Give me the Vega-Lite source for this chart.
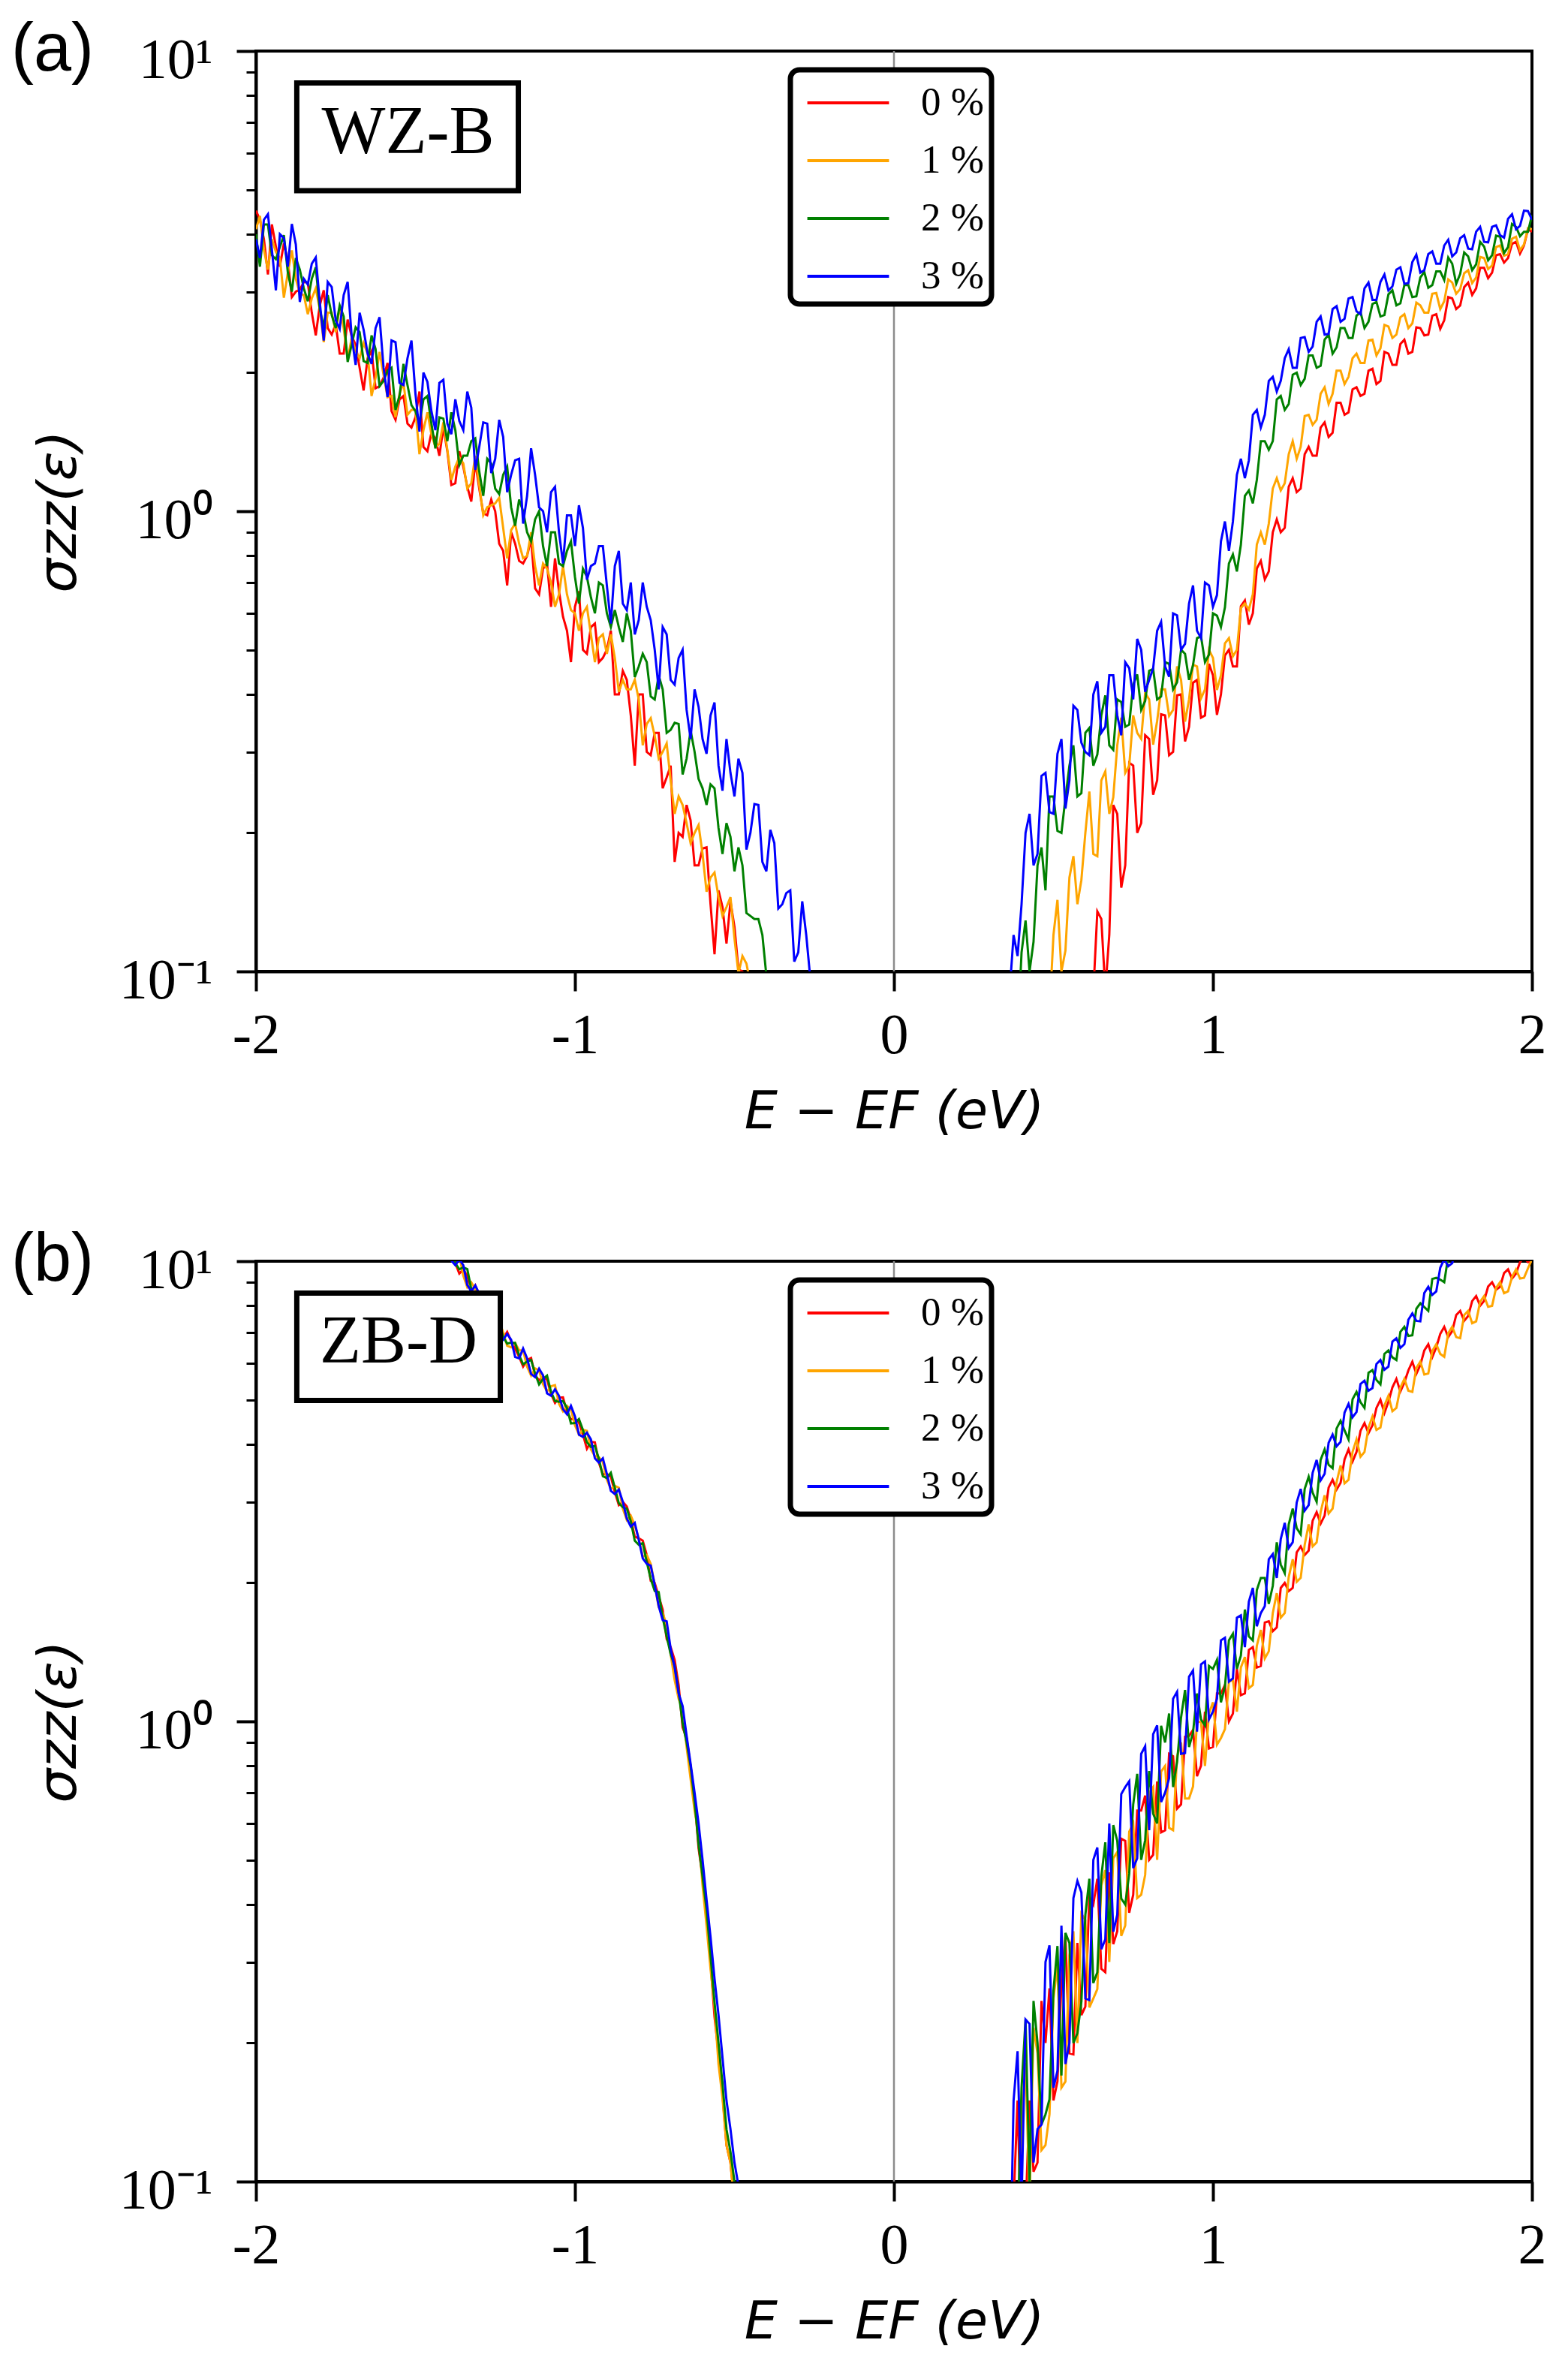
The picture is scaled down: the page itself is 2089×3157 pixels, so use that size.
{
"$schema": "https://vega.github.io/schema/vega-lite/v6.json",
"background": "white",
"padding": {"left": 13, "top": 20, "right": 20, "bottom": 20},
"autosize": {"type": "pad"},
"bounds": "flush",
"spacing": 386,
"data": {"values": [
{"panel":"a","side":"L",
"E":[-2,-1.975,-1.95,-1.925,-1.9,-1.875,-1.85,-1.825,-1.8,-1.775,-1.75,-1.725,-1.7,-1.675,-1.65,-1.625,-1.6,-1.575,-1.55,-1.525,-1.5,-1.475,-1.45,-1.425,-1.4,-1.375,-1.35,-1.325,-1.3,-1.275,-1.25,-1.225,-1.2,-1.175,-1.15,-1.125,-1.1,-1.075,-1.05,-1.025,-1,-0.975,-0.95,-0.925,-0.9,-0.875,-0.85,-0.825,-0.8,-0.775,-0.75,-0.725,-0.7,-0.675,-0.65,-0.625,-0.6,-0.575,-0.55,-0.525,-0.5,-0.475,-0.45,-0.425,-0.4,-0.375,-0.35,-0.325,-0.3,-0.275,-0.25],
"0 %":[4.5,3.9,4.2,3.4,3.5,3.0,3.15,2.7,2.8,2.5,2.55,2.2,2.4,2.05,2.15,1.85,1.95,1.65,1.75,1.55,1.6,1.38,1.48,1.32,1.35,1.15,1.25,1.05,1.12,0.98,1.0,0.82,0.9,0.78,0.8,0.68,0.75,0.62,0.67,0.55,0.62,0.5,0.56,0.47,0.5,0.4,0.45,0.36,0.4,0.3,0.33,0.25,0.28,0.2,0.23,0.17,0.185,0.14,0.15,0.115,0.125,0.1,0.09,0.07,0.05,0.05,0.05,0.05,0.05,0.05,0.05],
"1 %":[4.1,3.7,3.9,3.55,3.3,3.2,2.95,2.9,2.75,2.7,2.45,2.5,2.38,2.15,2.2,1.95,1.98,1.78,1.8,1.62,1.66,1.5,1.47,1.4,1.36,1.25,1.27,1.15,1.14,1.02,1.04,0.92,0.91,0.85,0.8,0.76,0.77,0.7,0.66,0.66,0.6,0.6,0.54,0.53,0.49,0.48,0.43,0.41,0.39,0.345,0.325,0.3,0.26,0.24,0.21,0.2,0.18,0.16,0.145,0.138,0.118,0.108,0.094,0.08,0.05,0.05,0.05,0.05,0.05,0.05,0.05],
"2 %":[4.0,4.2,3.6,3.75,3.3,3.55,3.05,3.2,2.75,2.95,2.5,2.65,2.3,2.45,2.1,2.25,1.92,2.05,1.78,1.88,1.65,1.75,1.55,1.6,1.42,1.5,1.32,1.42,1.22,1.3,1.12,1.2,1.02,1.06,0.9,0.96,0.84,0.9,0.77,0.82,0.72,0.75,0.65,0.7,0.6,0.61,0.52,0.55,0.46,0.47,0.39,0.41,0.335,0.345,0.29,0.3,0.25,0.255,0.205,0.21,0.165,0.17,0.132,0.13,0.098,0.08,0.05,0.05,0.05,0.05,0.05],
"3 %":[3.9,4.3,3.7,4.0,3.4,3.8,3.2,3.45,2.85,3.15,2.6,2.95,2.4,2.7,2.2,2.5,2.05,2.35,1.9,2.15,1.8,2.0,1.65,1.9,1.55,1.75,1.5,1.68,1.38,1.55,1.3,1.45,1.2,1.3,1.08,1.2,1.0,1.1,0.9,0.98,0.84,0.92,0.76,0.84,0.69,0.76,0.63,0.7,0.58,0.62,0.5,0.56,0.43,0.48,0.37,0.41,0.32,0.36,0.28,0.32,0.24,0.27,0.2,0.23,0.165,0.19,0.14,0.15,0.11,0.12,0.085]},
{"panel":"a","side":"L",
"E":[-1.9875,-1.9625,-1.9375,-1.9125,-1.8875,-1.8625,-1.8375,-1.8125,-1.7875,-1.7625,-1.7375,-1.7125,-1.6875,-1.6625,-1.6375,-1.6125,-1.5875,-1.5625,-1.5375,-1.5125,-1.4875,-1.4625,-1.4375,-1.4125,-1.3875,-1.3625,-1.3375,-1.3125,-1.2875,-1.2625,-1.2375,-1.2125,-1.1875,-1.1625,-1.1375,-1.1125,-1.0875,-1.0625,-1.0375,-1.0125,-0.9875,-0.9625,-0.9375,-0.9125,-0.8875,-0.8625,-0.8375,-0.8125,-0.7875,-0.7625,-0.7375,-0.7125,-0.6875,-0.6625,-0.6375,-0.6125,-0.5875,-0.5625,-0.5375,-0.5125,-0.4875,-0.4625,-0.4375,-0.4125,-0.3875,-0.3625,-0.3375,-0.3125,-0.2875,-0.2625],
"0 %":[4.3,3.27,3.76,3.82,2.92,3.03,3.14,2.41,3.02,2.42,2.2,2.61,2.3,1.83,2.23,1.87,2.1,1.58,1.78,1.52,1.82,1.35,1.44,1.52,1.14,1.35,1.13,1.28,0.99,1.06,0.85,0.69,0.85,0.77,0.87,0.66,0.77,0.79,0.59,0.47,0.67,0.49,0.57,0.48,0.55,0.4,0.43,0.28,0.4,0.295,0.33,0.264,0.173,0.196,0.213,0.17,0.186,0.109,0.138,0.142,0.101,0.095,0.075,0.06,0.05,0.05,0.05,0.05,0.05,0.05],
"1 %":[4.38,3.35,3.66,2.91,3.69,2.97,2.68,3.05,2.33,2.7,2.77,2.14,2.23,2.32,1.78,2.22,1.77,1.6,1.9,1.66,1.33,1.64,1.38,1.56,1.17,1.31,1.12,1.32,0.98,1.03,1.07,0.79,0.94,0.79,0.9,0.69,0.75,0.62,0.76,0.61,0.55,0.62,0.47,0.54,0.54,0.405,0.41,0.43,0.31,0.355,0.29,0.313,0.22,0.23,0.19,0.208,0.149,0.164,0.132,0.145,0.099,0.104,0.079,0.065,0.05,0.05,0.05,0.05,0.05,0.05],
"2 %":[3.4,4.2,3.53,3.98,3.0,3.35,2.86,3.39,2.51,2.67,2.8,2.11,2.51,2.12,2.41,1.87,2.02,1.66,2.09,1.7,1.55,1.78,1.37,1.59,1.64,1.26,1.32,1.44,1.08,1.27,1.09,1.25,0.93,1.0,0.86,1.0,0.76,0.9,0.76,0.86,0.63,0.72,0.6,0.69,0.56,0.56,0.6,0.436,0.49,0.396,0.44,0.33,0.347,0.268,0.334,0.262,0.23,0.25,0.18,0.196,0.186,0.134,0.13,0.12,0.076,0.062,0.05,0.05,0.05,0.05],
"3 %":[3.55,4.42,3.02,3.92,4.21,2.85,3.11,3.56,2.35,3.07,2.49,3.15,2.08,2.48,2.09,2.64,1.77,2.33,1.88,2.35,1.49,1.91,1.5,1.93,1.47,1.57,1.82,1.23,1.56,1.21,1.58,1.1,1.29,0.94,1.37,1.02,0.9,1.13,0.77,0.98,1.03,0.71,0.77,0.84,0.57,0.82,0.61,0.54,0.7,0.58,0.41,0.54,0.42,0.5,0.32,0.376,0.297,0.384,0.247,0.27,0.29,0.184,0.231,0.173,0.203,0.137,0.148,0.105,0.142,0.097]},
{"panel":"a","side":"R",
"E":[0.35,0.375,0.4,0.425,0.45,0.475,0.5,0.525,0.55,0.575,0.6,0.625,0.65,0.675,0.7,0.725,0.75,0.775,0.8,0.825,0.85,0.875,0.9,0.925,0.95,0.975,1,1.025,1.05,1.075,1.1,1.125,1.15,1.175,1.2,1.225,1.25,1.275,1.3,1.325,1.35,1.375,1.4,1.425,1.45,1.475,1.5,1.525,1.55,1.575,1.6,1.625,1.65,1.675,1.7,1.725,1.75,1.775,1.8,1.825,1.85,1.875,1.9,1.925,1.95,1.975,2],
"0 %":[0.05,0.05,0.05,0.05,0.05,0.05,0.05,0.05,0.05,0.05,0.05,0.09,0.13,0.12,0.22,0.17,0.28,0.21,0.32,0.26,0.36,0.3,0.4,0.34,0.43,0.36,0.44,0.4,0.5,0.46,0.64,0.6,0.78,0.74,0.96,0.92,1.18,1.12,1.38,1.32,1.56,1.48,1.72,1.64,1.86,1.8,2.04,1.92,2.2,2.08,2.36,2.22,2.5,2.42,2.68,2.6,2.9,2.8,3.14,3.05,3.38,3.3,3.62,3.55,3.85,3.78,4.05],
"1 %":[0.05,0.05,0.05,0.05,0.05,0.07,0.12,0.1,0.16,0.14,0.2,0.18,0.26,0.22,0.31,0.27,0.36,0.32,0.39,0.35,0.41,0.37,0.43,0.39,0.46,0.41,0.48,0.44,0.53,0.5,0.63,0.66,0.9,0.94,1.18,1.15,1.42,1.38,1.62,1.58,1.86,1.8,2.02,1.96,2.2,2.1,2.36,2.26,2.52,2.42,2.68,2.56,2.8,2.7,2.98,2.86,3.14,3.04,3.34,3.22,3.55,3.42,3.78,3.62,3.95,3.8,4.1],
"2 %":[0.05,0.05,0.11,0.1,0.17,0.15,0.24,0.2,0.28,0.24,0.33,0.28,0.36,0.31,0.39,0.34,0.42,0.37,0.45,0.39,0.47,0.41,0.5,0.43,0.53,0.47,0.6,0.56,0.77,0.74,1.08,1.04,1.42,1.36,1.75,1.66,1.98,1.88,2.18,2.05,2.36,2.2,2.5,2.38,2.66,2.5,2.82,2.65,2.96,2.8,3.1,2.92,3.22,3.06,3.32,3.18,3.45,3.28,3.58,3.44,3.76,3.6,3.95,3.75,4.15,4.05,4.4],
"3 %":[0.05,0.12,0.14,0.22,0.18,0.27,0.22,0.32,0.26,0.37,0.3,0.4,0.33,0.44,0.36,0.47,0.39,0.5,0.43,0.55,0.46,0.6,0.5,0.63,0.55,0.7,0.62,0.86,0.82,1.2,1.18,1.62,1.52,1.92,1.82,2.15,2.05,2.38,2.22,2.58,2.42,2.75,2.58,2.9,2.72,3.05,2.88,3.15,3.02,3.35,3.12,3.48,3.3,3.62,3.45,3.78,3.58,3.92,3.72,4.05,3.85,4.15,3.98,4.32,4.1,4.5,4.3]},
{"panel":"a","side":"R",
"E":[0.3625,0.3875,0.4125,0.4375,0.4625,0.4875,0.5125,0.5375,0.5625,0.5875,0.6125,0.6375,0.6625,0.6875,0.7125,0.7375,0.7625,0.7875,0.8125,0.8375,0.8625,0.8875,0.9125,0.9375,0.9625,0.9875,1.0125,1.0375,1.0625,1.0875,1.1125,1.1375,1.1625,1.1875,1.2125,1.2375,1.2625,1.2875,1.3125,1.3375,1.3625,1.3875,1.4125,1.4375,1.4625,1.4875,1.5125,1.5375,1.5625,1.5875,1.6125,1.6375,1.6625,1.6875,1.7125,1.7375,1.7625,1.7875,1.8125,1.8375,1.8625,1.8875,1.9125,1.9375,1.9625,1.9875],
"0 %":[0.05,0.05,0.05,0.05,0.05,0.05,0.05,0.05,0.05,0.05,0.078,0.135,0.091,0.23,0.152,0.284,0.2,0.326,0.242,0.362,0.295,0.398,0.316,0.424,0.356,0.466,0.361,0.486,0.46,0.622,0.567,0.751,0.711,0.9,0.9,1.13,1.1,1.33,1.32,1.52,1.45,1.72,1.62,1.84,1.78,2.02,1.89,2.22,2.08,2.31,2.2,2.51,2.41,2.66,2.49,2.92,2.75,3.07,2.95,3.38,3.21,3.6,3.47,3.81,3.63,4.1],
"1 %":[0.05,0.05,0.05,0.05,0.074,0.081,0.143,0.111,0.178,0.158,0.246,0.178,0.272,0.239,0.356,0.28,0.33,0.403,0.311,0.41,0.359,0.46,0.349,0.464,0.392,0.5,0.409,0.516,0.484,0.616,0.611,0.847,0.846,1.12,1.11,1.33,1.3,1.61,1.54,1.8,1.71,2.02,1.89,2.15,2.1,2.35,2.18,2.54,2.38,2.64,2.5,2.84,2.7,2.97,2.75,3.19,2.97,3.29,3.13,3.57,3.36,3.75,3.59,3.91,3.69,4.12],
"2 %":[0.05,0.072,0.129,0.116,0.186,0.24,0.202,0.238,0.31,0.244,0.338,0.296,0.398,0.303,0.385,0.344,0.442,0.387,0.454,0.396,0.466,0.425,0.49,0.463,0.535,0.488,0.593,0.618,0.806,0.846,1.11,1.17,1.42,1.42,1.78,1.71,2.0,1.94,2.18,2.07,2.42,2.27,2.5,2.38,2.71,2.58,2.85,2.67,3.02,2.83,3.1,2.93,3.31,3.1,3.32,3.56,3.12,3.65,3.34,3.85,3.51,3.97,3.64,4.21,3.96,4.05],
"3 %":[0.09,0.108,0.2,0.17,0.266,0.222,0.297,0.226,0.378,0.314,0.295,0.427,0.34,0.44,0.326,0.456,0.528,0.405,0.456,0.575,0.437,0.594,0.515,0.69,0.53,0.69,0.657,0.95,0.95,1.3,1.29,1.66,1.62,1.96,1.92,2.25,2.05,2.39,2.28,2.65,2.43,2.79,2.62,2.92,2.68,3.14,2.88,3.27,3.08,3.39,3.13,3.61,3.34,3.67,3.45,3.89,3.65,3.98,3.71,4.15,3.84,4.18,3.93,4.42,4.17,4.49]},
{"panel":"b","side":"L",
"E":[-1.45,-1.425,-1.4,-1.375,-1.35,-1.325,-1.3,-1.275,-1.25,-1.225,-1.2,-1.175,-1.15,-1.125,-1.1,-1.075,-1.05,-1.025,-1,-0.975,-0.95,-0.925,-0.9,-0.875,-0.85,-0.825,-0.8,-0.775,-0.75,-0.725,-0.7,-0.675,-0.65,-0.625,-0.6,-0.575,-0.55,-0.525,-0.5,-0.475,-0.45],
"0 %":[12.8,11.4,10.9,9.9,9.6,8.6,8.4,7.5,7.35,6.8,6.7,6.2,6.1,5.65,5.6,5.15,5.05,4.7,4.55,4.2,4.05,3.65,3.45,3.15,3.0,2.75,2.5,2.3,2.0,1.75,1.45,1.2,0.92,0.68,0.46,0.3,0.19,0.12,0.09,0.06,0.05],
"1 %":[12.2,11.8,10.6,10.3,9.3,9.0,8.1,7.85,7.1,7.0,6.5,6.4,5.9,5.85,5.4,5.35,4.9,4.85,4.4,4.3,3.9,3.75,3.35,3.25,2.9,2.8,2.5,2.3,1.98,1.72,1.4,1.12,0.88,0.64,0.44,0.29,0.18,0.12,0.088,0.06,0.05],
"2 %":[12.6,11.5,11.0,9.9,9.7,8.7,8.35,7.6,7.3,6.85,6.65,6.25,6.05,5.7,5.55,5.2,4.95,4.8,4.45,4.3,3.95,3.72,3.38,3.22,2.92,2.72,2.42,2.22,1.92,1.68,1.4,1.16,0.9,0.67,0.46,0.31,0.2,0.13,0.1,0.075,0.05],
"3 %":[12.9,11.2,11.1,9.8,9.8,8.6,8.5,7.5,7.4,6.75,6.75,6.15,6.15,5.6,5.65,5.1,5.1,4.65,4.6,4.15,4.1,3.65,3.45,3.12,3.0,2.65,2.48,2.2,1.98,1.66,1.44,1.15,0.93,0.7,0.5,0.34,0.23,0.15,0.11,0.085,0.06]},
{"panel":"b","side":"L",
"E":[-1.4375,-1.4125,-1.3875,-1.3625,-1.3375,-1.3125,-1.2875,-1.2625,-1.2375,-1.2125,-1.1875,-1.1625,-1.1375,-1.1125,-1.0875,-1.0625,-1.0375,-1.0125,-0.9875,-0.9625,-0.9375,-0.9125,-0.8875,-0.8625,-0.8375,-0.8125,-0.7875,-0.7625,-0.7375,-0.7125,-0.6875,-0.6625,-0.6375,-0.6125,-0.5875,-0.5625,-0.5375,-0.5125,-0.4875,-0.4625],
"0 %":[12.4,10.9,11.0,9.4,9.3,8.86,7.73,7.69,6.72,7.02,6.45,5.9,6.16,5.51,5.53,4.92,5.06,4.53,4.46,3.91,4.04,3.44,3.4,2.95,2.93,2.52,2.47,2.02,1.87,1.51,1.36,0.97,0.8,0.53,0.39,0.228,0.155,0.11,0.082,0.06],
"1 %":[11.6,11.65,10.24,10.29,8.78,8.69,8.29,7.25,7.42,6.55,6.64,6.4,5.64,5.79,5.21,5.38,4.72,4.76,4.2,4.28,3.77,3.66,3.2,3.22,2.74,2.67,2.28,2.2,1.77,1.62,1.23,1.06,0.75,0.57,0.36,0.24,0.152,0.11,0.082,0.06],
"2 %":[12.24,10.75,10.87,9.6,9.61,8.26,8.13,7.17,7.35,6.62,6.64,5.97,6.1,5.4,5.64,4.97,4.97,4.44,4.54,4.04,3.97,3.41,3.47,2.98,2.9,2.47,2.44,2.04,1.91,1.53,1.32,0.99,0.8,0.54,0.39,0.245,0.163,0.116,0.09,0.066],
"3 %":[11.76,11.76,10.03,10.09,8.88,8.86,7.65,7.84,6.86,6.95,6.19,6.46,5.69,5.84,5.16,5.27,4.77,4.85,4.2,4.24,3.73,3.73,3.17,3.19,2.76,2.7,2.26,2.18,1.78,1.65,1.31,1.08,0.81,0.6,0.41,0.276,0.186,0.13,0.098,0.072]},
{"panel":"b","side":"R",
"E":[0.35,0.375,0.4,0.425,0.45,0.475,0.5,0.525,0.55,0.575,0.6,0.625,0.65,0.675,0.7,0.725,0.75,0.775,0.8,0.825,0.85,0.875,0.9,0.925,0.95,0.975,1,1.025,1.05,1.075,1.1,1.125,1.15,1.175,1.2,1.225,1.25,1.275,1.3,1.325,1.35,1.375,1.4,1.425,1.45,1.475,1.5,1.525,1.55,1.575,1.6,1.625,1.65,1.675,1.7,1.725,1.75,1.775,1.8,1.825,1.85,1.875,1.9,1.925,1.95,1.975,2],
"0 %":[0.05,0.09,0.07,0.15,0.11,0.2,0.15,0.27,0.19,0.33,0.24,0.4,0.29,0.47,0.35,0.55,0.42,0.64,0.5,0.74,0.58,0.84,0.66,0.93,0.76,1.05,0.88,1.15,1.0,1.3,1.15,1.45,1.32,1.65,1.6,2.0,1.95,2.4,2.35,2.85,2.8,3.35,3.3,3.9,3.85,4.45,4.4,5.0,4.95,5.55,5.45,6.05,5.95,6.6,6.5,7.2,7.05,7.8,7.6,8.4,8.2,9.0,8.8,9.6,9.4,10.2,10.0],
"1 %":[0.05,0.06,0.13,0.09,0.19,0.12,0.25,0.16,0.31,0.2,0.37,0.25,0.44,0.3,0.52,0.36,0.6,0.42,0.7,0.5,0.8,0.58,0.9,0.68,1.0,0.8,1.1,0.92,1.22,1.05,1.38,1.2,1.58,1.42,1.9,1.72,2.25,2.05,2.68,2.45,3.1,2.9,3.6,3.35,4.1,3.85,4.6,4.35,5.1,4.8,5.55,5.2,6.05,5.7,6.6,6.2,7.2,6.8,7.8,7.4,8.4,8.0,9.0,8.6,9.6,9.2,10.1],
"2 %":[0.05,0.07,0.16,0.1,0.2,0.14,0.26,0.17,0.33,0.21,0.38,0.27,0.46,0.33,0.55,0.4,0.66,0.5,0.78,0.6,0.9,0.72,1.02,0.88,1.15,0.98,1.3,1.1,1.5,1.3,1.75,1.5,2.05,1.8,2.45,2.1,2.9,2.55,3.4,3.0,3.9,3.55,4.5,4.1,5.2,4.8,5.8,5.4,6.4,6.1,7.2,6.9,8.1,7.8,9.2,9.0,10.5,10.2,11.5,11.2,12,12.4,12.8,13.2,13.5,13.9,14.2],
"3 %":[0.05,0.15,0.09,0.22,0.13,0.3,0.16,0.36,0.2,0.45,0.25,0.5,0.32,0.6,0.38,0.72,0.48,0.85,0.58,0.98,0.7,1.12,0.85,1.25,0.95,1.35,1.05,1.5,1.22,1.68,1.45,1.95,1.72,2.25,2.05,2.7,2.45,3.2,2.95,3.7,3.45,4.2,4.05,4.9,4.7,5.5,5.3,6.1,5.9,6.8,6.6,7.7,7.4,8.8,8.6,10.1,9.9,11.2,11,11.5,12,12.3,12.6,13,13.3,13.6,14]},
{"panel":"b","side":"R",
"E":[0.3625,0.3875,0.4125,0.4375,0.4625,0.4875,0.5125,0.5375,0.5625,0.5875,0.6125,0.6375,0.6625,0.6875,0.7125,0.7375,0.7625,0.7875,0.8125,0.8375,0.8625,0.8875,0.9125,0.9375,0.9625,0.9875,1.0125,1.0375,1.0625,1.0875,1.1125,1.1375,1.1625,1.1875,1.2125,1.2375,1.2625,1.2875,1.3125,1.3375,1.3625,1.3875,1.4125,1.4375,1.4625,1.4875,1.5125,1.5375,1.5625,1.5875,1.6125,1.6375,1.6625,1.6875,1.7125,1.7375,1.7625,1.7875,1.8125,1.8375,1.8625,1.8875,1.9125,1.9375,1.9625,1.9875],
"0 %":[0.091,0.15,0.085,0.105,0.247,0.263,0.165,0.343,0.189,0.23,0.416,0.455,0.285,0.328,0.556,0.384,0.64,0.69,0.513,0.574,0.85,0.646,0.926,0.958,0.801,0.873,1.15,1.2,1.04,1.14,1.43,1.31,1.64,1.57,1.95,1.92,2.33,2.3,2.73,2.69,3.22,3.19,3.71,3.67,4.28,4.23,4.8,4.68,5.32,5.21,5.79,5.69,6.4,6.19,6.95,6.84,7.64,7.42,8.19,8.0,8.81,8.67,9.42,9.17,9.95,9.95],
"1 %":[0.05,0.065,0.181,0.216,0.117,0.14,0.295,0.165,0.35,0.382,0.239,0.262,0.475,0.504,0.342,0.576,0.413,0.464,0.72,0.778,0.587,0.84,0.68,0.722,0.996,1.04,0.89,0.962,1.23,1.31,1.18,1.46,1.37,1.72,1.68,2.06,2.01,2.42,2.4,2.85,2.83,3.31,3.29,3.85,3.76,4.35,4.3,4.86,4.72,5.31,5.23,5.86,5.67,6.38,6.29,6.97,6.84,7.64,7.33,8.16,7.96,8.75,8.52,9.25,9.17,9.65],
"2 %":[0.075,0.078,0.225,0.247,0.133,0.151,0.325,0.347,0.2,0.246,0.455,0.285,0.546,0.595,0.412,0.467,0.769,0.552,0.63,0.978,1.04,0.817,1.17,0.946,1.01,1.32,1.36,1.19,1.55,1.39,1.53,1.93,2.05,1.97,2.19,2.68,2.63,3.2,3.14,3.7,3.61,4.33,4.29,5.01,4.94,5.72,5.52,6.29,6.18,7.02,6.88,7.88,7.95,9.15,9.12,10.25,10.9,11.4,11.9,12.2,12.6,13.0,13.3,13.6,13.9,14.1],
"3 %":[0.053,0.192,0.225,0.11,0.133,0.326,0.174,0.18,0.413,0.425,0.248,0.532,0.336,0.349,0.695,0.741,0.504,0.883,0.938,0.668,0.752,1.16,0.853,1.29,1.33,1.01,1.12,1.52,1.24,1.7,1.82,1.61,1.78,2.31,2.49,2.38,2.99,2.87,3.47,3.34,4.03,3.96,4.69,4.58,5.41,5.23,5.98,5.81,6.69,6.48,7.46,7.42,8.53,8.45,9.68,9.75,10.7,11.2,11.7,12.1,12.4,12.8,13.1,13.4,13.7,14]}
]},
"resolve": {"scale": {"color": "independent"}, "legend": {"color": "independent"}},
"vconcat": [
{
"width": 1700, "height": 1226,
"title": {"text": "(a)"},
"transform": [
 {"filter": "datum.panel === 'a'"},
 {"flatten": ["E", "0 %", "1 %", "2 %", "3 %"]},
 {"fold": ["0 %", "1 %", "2 %", "3 %"], "as": ["strain", "sigma"]}
],
"layer": [
 {"mark": {"type": "line", "strokeWidth": 3, "clip": true},
  "encoding": {
   "x": {"field": "E", "type": "quantitative", "scale": {"domain": [-2, 2], "nice": false, "zero": false},
    "axis": {"values": [-2, -1, 0, 1, 2], "labelExpr": "'' + datum.value", "title": "E − EF (eV)"}},
   "y": {"field": "sigma", "type": "quantitative", "scale": {"type": "log", "domain": [0.1, 10], "nice": false},
    "axis": {"values": [0.1,0.2,0.3,0.4,0.5,0.6,0.7,0.8,0.9,1,2,3,4,5,6,7,8,9,10],
     "labelExpr": "datum.value == 10 ? '10¹' : datum.value == 1 ? '10⁰' : datum.value == 0.1 ? '10⁻¹' : ''",
     "tickSize": {"condition": {"test": "datum.value == 0.1 || datum.value == 1 || datum.value == 10", "value": 26}, "value": 13},
     "tickWidth": {"condition": {"test": "datum.value == 0.1 || datum.value == 1 || datum.value == 10", "value": 4}, "value": 3},
     "title": "σzz(ε)"}},
   "color": {"field": "strain", "type": "nominal",
    "scale": {"domain": ["0 %", "1 %", "2 %", "3 %"], "range": ["#ff0000", "#ffa500", "#008000", "#0000ff"]},
    "legend": {"orient": "none", "legendX": 712, "legendY": 25}},
   "detail": {"field": "side"}
  }},
 {"data": {"values": [{"E": 0}]},
  "mark": {"type": "rule", "color": "#8c8c8c", "strokeWidth": 2.5},
  "encoding": {"x": {"field": "E", "type": "quantitative", "axis": {"title": "E − EF (eV)"}}}},
 {"data": {"values": [{"label": "WZ-B"}]},
  "mark": {"type": "rect", "fill": "white", "stroke": "black", "strokeWidth": 7},
  "encoding": {"x": {"datum": -1.872, "type": "quantitative", "axis": {"title": "E − EF (eV)"}}, "x2": {"datum": -1.1776},
   "y": {"datum": 8.525, "type": "quantitative", "axis": {"title": "σzz(ε)"}}, "y2": {"datum": 4.974}}},
 {"data": {"values": [{"label": "WZ-B"}]},
  "mark": {"type": "text", "font": "Liberation Serif", "fontSize": 90, "align": "center", "baseline": "alphabetic", "color": "black"},
  "encoding": {"x": {"datum": -1.5235, "type": "quantitative", "axis": {"title": "E − EF (eV)"}},
   "y": {"datum": 5.99, "type": "quantitative", "axis": {"title": "σzz(ε)"}}, "text": {"field": "label"}}}
]
},
{
"width": 1700, "height": 1226,
"title": {"text": "(b)"},
"transform": [
 {"filter": "datum.panel === 'b'"},
 {"flatten": ["E", "0 %", "1 %", "2 %", "3 %"]},
 {"fold": ["0 %", "1 %", "2 %", "3 %"], "as": ["strain", "sigma"]}
],
"layer": [
 {"mark": {"type": "line", "strokeWidth": 3, "clip": true},
  "encoding": {
   "x": {"field": "E", "type": "quantitative", "scale": {"domain": [-2, 2], "nice": false, "zero": false},
    "axis": {"values": [-2, -1, 0, 1, 2], "labelExpr": "'' + datum.value", "title": "E − EF (eV)"}},
   "y": {"field": "sigma", "type": "quantitative", "scale": {"type": "log", "domain": [0.1, 10], "nice": false},
    "axis": {"values": [0.1,0.2,0.3,0.4,0.5,0.6,0.7,0.8,0.9,1,2,3,4,5,6,7,8,9,10],
     "labelExpr": "datum.value == 10 ? '10¹' : datum.value == 1 ? '10⁰' : datum.value == 0.1 ? '10⁻¹' : ''",
     "tickSize": {"condition": {"test": "datum.value == 0.1 || datum.value == 1 || datum.value == 10", "value": 26}, "value": 13},
     "tickWidth": {"condition": {"test": "datum.value == 0.1 || datum.value == 1 || datum.value == 10", "value": 4}, "value": 3},
     "title": "σzz(ε)"}},
   "color": {"field": "strain", "type": "nominal",
    "scale": {"domain": ["0 %", "1 %", "2 %", "3 %"], "range": ["#ff0000", "#ffa500", "#008000", "#0000ff"]},
    "legend": {"orient": "none", "legendX": 712, "legendY": 25}},
   "detail": {"field": "side"}
  }},
 {"data": {"values": [{"E": 0}]},
  "mark": {"type": "rule", "color": "#8c8c8c", "strokeWidth": 2.5},
  "encoding": {"x": {"field": "E", "type": "quantitative", "axis": {"title": "E − EF (eV)"}}}},
 {"data": {"values": [{"label": "ZB-D"}]},
  "mark": {"type": "rect", "fill": "white", "stroke": "black", "strokeWidth": 7},
  "encoding": {"x": {"datum": -1.872, "type": "quantitative", "axis": {"title": "E − EF (eV)"}}, "x2": {"datum": -1.234},
   "y": {"datum": 8.525, "type": "quantitative", "axis": {"title": "σzz(ε)"}}, "y2": {"datum": 4.98}}},
 {"data": {"values": [{"label": "ZB-D"}]},
  "mark": {"type": "text", "font": "Liberation Serif", "fontSize": 90, "align": "center", "baseline": "alphabetic", "color": "black"},
  "encoding": {"x": {"datum": -1.553, "type": "quantitative", "axis": {"title": "E − EF (eV)"}},
   "y": {"datum": 6.02, "type": "quantitative", "axis": {"title": "σzz(ε)"}}, "text": {"field": "label"}}}
]
}
],
"config": {
 "view": {"stroke": "black", "strokeWidth": 4},
 "axis": {"domainColor": "black", "domainWidth": 4, "tickColor": "black", "labelColor": "black", "titleColor": "black",
  "grid": false, "labelFont": "Liberation Serif", "labelFontSize": 76, "labelFlush": false, "labelOverlap": false, "labelBound": false},
 "axisX": {"tickSize": 26, "tickWidth": 4, "labelPadding": 22, "titleFont": "DejaVu Sans", "titleFontStyle": "italic",
  "titleFontSize": 70, "titleFontWeight": "normal", "titlePadding": 30},
 "axisY": {"labelPadding": 32, "labelBaseline": "alphabetic", "labelOffset": 35, "titleFont": "DejaVu Sans", "titleFontStyle": "italic",
  "titleFontSize": 72, "titleFontWeight": "normal", "titlePadding": 43},
 "title": {"font": "Liberation Sans", "fontSize": 90, "fontWeight": "normal", "color": "black", "anchor": "start",
  "frame": "group", "baseline": "alphabetic", "dx": -326, "dy": 75, "offset": 0},
 "legend": {"title": null, "symbolType": "M-1.7,0H1.7", "symbolSize": 4096, "symbolStrokeWidth": 4,
  "labelFont": "Liberation Serif", "labelFontSize": 53, "labelColor": "black", "labelOffset": 63, "symbolOffset": 33,
  "padding": 10, "rowPadding": 16, "strokeColor": "black", "strokeWidth": 7, "cornerRadius": 12, "fillColor": "white"}
}
}
